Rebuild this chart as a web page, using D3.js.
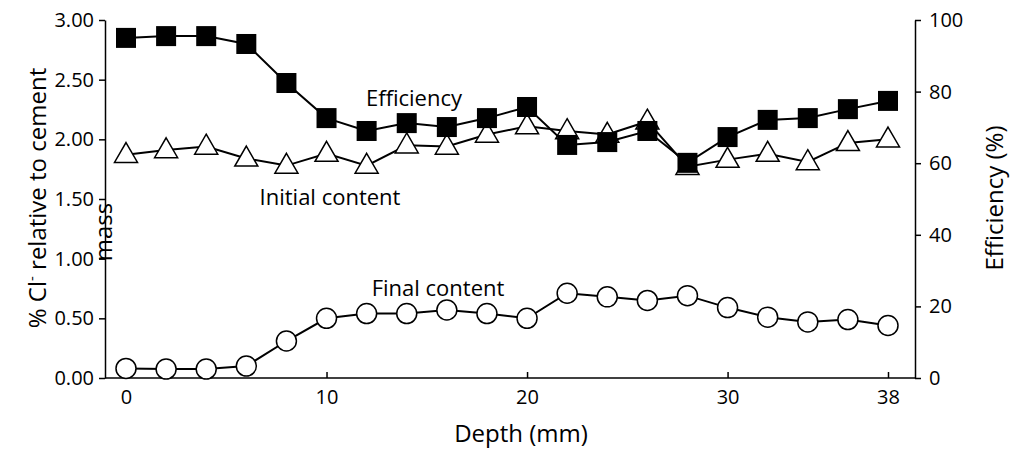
<!DOCTYPE html>
<html><head><meta charset="utf-8">
<script src="https://cdn.jsdelivr.net/npm/d3@7"></script>
<style>body{margin:0;background:#fff}text{font-family:"Open Sans",sans-serif;fill:#000}</style>
</head><body><svg id="c" width="1024" height="452"></svg>
<script>
const depth=[0,2,4,6,8,10,12,14,16,18,20,22,24,26,28,30,32,34,36,38];
const efficiency=[95,95.5,95.5,93.3,82.4,72.6,69,71.2,70.1,72.6,75.7,65.1,65.9,69,60.1,67.3,72.1,72.6,75.1,77.4];
const initialContent=[1.87,1.91,1.94,1.84,1.78,1.88,1.78,1.95,1.94,2.04,2.11,2.07,2.04,2.15,1.77,1.83,1.88,1.81,1.97,2.0];
const finalContent=[0.08,0.075,0.075,0.10,0.31,0.50,0.54,0.54,0.57,0.54,0.50,0.71,0.68,0.65,0.69,0.59,0.51,0.47,0.49,0.44];
const xTicks=[0,10,20,30,38];
const leftTicks=[0,0.5,1,1.5,2,2.5,3];
const rightTicks=[0,20,40,60,80,100];

const svg=d3.select("#c");
const L=105,R=915,T=20,B=378;
const x=d3.scaleLinear().domain([0,38]).range([126,888]);
const yl=d3.scaleLinear().domain([0,3]).range([B,T]);
const yr=d3.scaleLinear().domain([0,100]).range([B,T]);
svg.append("g").attr("transform",`translate(0,${B})`).call(d3.axisBottom(x).tickValues(xTicks).tickSize(-6).tickPadding(12).tickSizeOuter(0))
 .call(g=>{g.select(".domain").attr("d",`M${L},0H${R}`);g.selectAll("text").style("font-size","20px");});
svg.append("g").attr("transform",`translate(${L},0)`).call(d3.axisLeft(yl).tickValues(leftTicks).tickFormat(d3.format(".2f")).tickSize(6).tickSizeOuter(0).tickPadding(5))
 .call(g=>g.selectAll("text").style("font-size","20px"));
svg.append("g").attr("transform",`translate(${R},0)`).call(d3.axisRight(yr).tickValues(rightTicks).tickSize(6).tickSizeOuter(0).tickPadding(8))
 .call(g=>g.selectAll("text").style("font-size","20px"));
svg.selectAll(".domain,.tick line").attr("stroke","#000").attr("stroke-width",1.5);

const pts=(v,ys)=>depth.map((d,i)=>[x(d),ys(v[i])]);
const line=d3.line();
function series(p,sym){
 svg.append("path").attr("d",line(p)).attr("fill","none").attr("stroke","#000").attr("stroke-width",2);
 p.forEach(([px,py])=>{
  if(sym==="sq")svg.append("rect").attr("x",px-10).attr("y",py-10).attr("width",20).attr("height",20).attr("fill","#000");
  else if(sym==="tri")svg.append("path").attr("d",d3.symbol(d3.symbolTriangle,230)()).attr("transform",`translate(${px},${py+1})`).attr("fill","#fff").attr("stroke","#000").attr("stroke-width",1.5);
  else svg.append("circle").attr("cx",px).attr("cy",py).attr("r",10).attr("fill","#fff").attr("stroke","#000").attr("stroke-width",1.5);
 });
}
series(pts(finalContent,yl),"circ");
series(pts(initialContent,yl),"tri");
series(pts(efficiency,yr),"sq");

const lab=(t,px,py,s=22)=>svg.append("text").attr("x",px).attr("y",py).attr("text-anchor","middle").style("font-size",s+"px").text(t);
lab("Efficiency",414,106);lab("Initial content",330,205);lab("Final content",438,296);
lab("Depth (mm)",521,442,24);
svg.append("text").attr("transform","translate(46,198) rotate(-90)").attr("text-anchor","middle").style("font-size","24px")
 .html('% Cl<tspan dy="-9" font-size="15">-</tspan><tspan dy="9"> relative to cement</tspan>');
svg.append("text").attr("transform","translate(112,232) rotate(-90)").attr("text-anchor","middle").style("font-size","24px").text("mass");
svg.append("text").attr("transform","translate(1003,198) rotate(-90)").attr("text-anchor","middle").style("font-size","24px").text("Efficiency (%)");
</script></body></html>
